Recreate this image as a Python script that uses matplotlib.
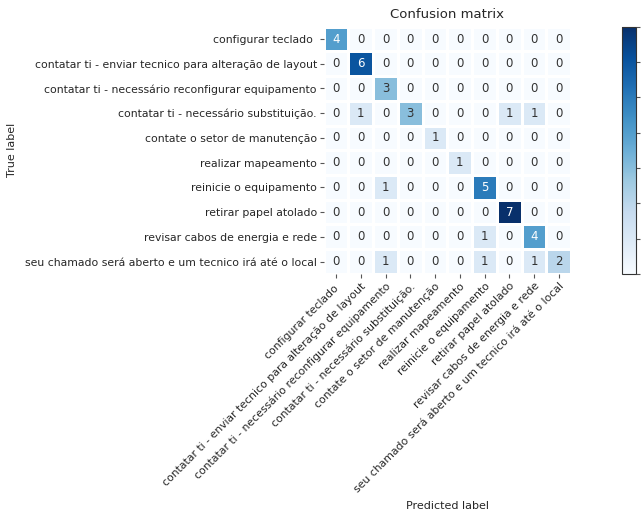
import numpy as np
import matplotlib
matplotlib.use("Agg")
import matplotlib.pyplot as plt

# class names (rows = true label, columns = predicted label)
labels = [
    "configurar teclado ",
    "contatar ti - enviar tecnico para alteração de layout",
    "contatar ti - necessário reconfigurar equipamento",
    "contatar ti - necessário substituição.",
    "contate o setor de manutenção",
    "realizar mapeamento",
    "reinicie o equipamento",
    "retirar papel atolado",
    "revisar cabos de energia e rede",
    "seu chamado será aberto e um tecnico irá até o local",
]

row_0 = [4, 0, 0, 0, 0, 0, 0, 0, 0, 0]
row_1 = [0, 6, 0, 0, 0, 0, 0, 0, 0, 0]
row_2 = [0, 0, 3, 0, 0, 0, 0, 0, 0, 0]
row_3 = [0, 1, 0, 3, 0, 0, 0, 1, 1, 0]
row_4 = [0, 0, 0, 0, 1, 0, 0, 0, 0, 0]
row_5 = [0, 0, 0, 0, 0, 1, 0, 0, 0, 0]
row_6 = [0, 0, 1, 0, 0, 0, 5, 0, 0, 0]
row_7 = [0, 0, 0, 0, 0, 0, 0, 7, 0, 0]
row_8 = [0, 0, 0, 0, 0, 0, 1, 0, 4, 0]
row_9 = [0, 0, 1, 0, 0, 0, 1, 0, 1, 2]

cm = np.array([row_0, row_1, row_2, row_3, row_4,
               row_5, row_6, row_7, row_8, row_9])
n = len(labels)

fig = plt.figure(figsize=(6.41, 5.13), dpi=100)
ax = fig.add_axes([0.505, 0.466, 0.386, 0.482])
cax = fig.add_axes([0.970, 0.466, 0.022, 0.482])

mesh = ax.pcolormesh(cm, cmap="Blues", vmin=0, vmax=cm.max(),
                     edgecolors="white", linewidth=2)
ax.set_xlim(0, n)
ax.set_ylim(n, 0)
for s in ax.spines.values():
    s.set_visible(False)

# cell counts, white on dark cells
thresh = cm.max() / 2.0
for i in range(n):
    for j in range(n):
        ax.text(j + 0.5, i + 0.5, str(cm[i, j]), ha="center", va="center",
                fontsize=8.5,
                color="white" if cm[i, j] > thresh else "#333333")

ax.set_xticks(np.arange(n) + 0.5)
ax.set_yticks(np.arange(n) + 0.5)
ax.set_xticklabels(labels, rotation=45, ha="right", rotation_mode="anchor",
                   fontsize=7.8, color="#262626")
ax.set_yticklabels(labels, fontsize=7.8, color="#262626")
ax.tick_params(length=3, width=0.8, color="#555555", pad=2)

ax.set_title("Confusion matrix", fontsize=9.5, color="#262626", pad=6)
ax.set_ylabel("True label", fontsize=8, color="#262626")
ax.set_xlabel("Predicted label", fontsize=8, color="#262626")
ax.yaxis.set_label_coords(-1.24, 0.5)
ax.xaxis.set_label_coords(0.5, -0.92)

cb = fig.colorbar(mesh, cax=cax)
cb.set_ticks(range(0, cm.max() + 1))
cb.set_ticklabels([])
cb.ax.tick_params(length=3, width=0.8, color="#555555")
cb.outline.set_linewidth(0.8)
cb.outline.set_edgecolor("#333333")

fig.savefig("out.png", dpi=100)
